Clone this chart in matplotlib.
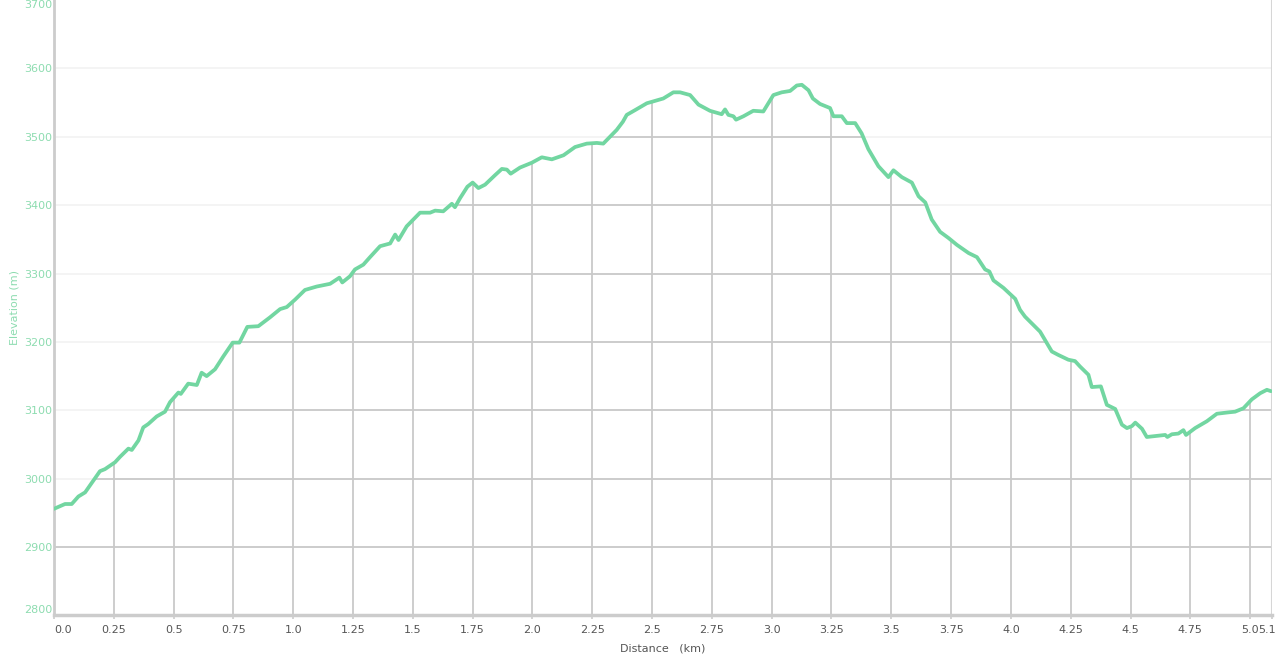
import numpy as np
import matplotlib
matplotlib.use("Agg")
import matplotlib.pyplot as plt
from matplotlib.patches import Polygon

# elevation profile
distance_km = [0.0, 0.046, 0.074, 0.102, 0.13, 0.158, 0.192, 0.213, 0.255, 0.276,
               0.311, 0.325, 0.353, 0.373, 0.394, 0.429, 0.464, 0.485, 0.52, 0.53,
               0.561, 0.597, 0.617, 0.638, 0.673, 0.708, 0.747, 0.775, 0.808, 0.854,
               0.903, 0.945, 0.973, 1.008, 1.049, 1.098, 1.154, 1.193, 1.205, 1.237,
               1.258, 1.293, 1.321, 1.363, 1.405, 1.426, 1.44, 1.474, 1.53, 1.572,
               1.593, 1.627, 1.663, 1.676, 1.697, 1.728, 1.75, 1.774, 1.802, 1.844,
               1.872, 1.893, 1.909, 1.948, 1.997, 2.039, 2.081, 2.13, 2.178, 2.227,
               2.269, 2.296, 2.324, 2.352, 2.378, 2.394, 2.429, 2.478, 2.547, 2.589,
               2.617, 2.659, 2.694, 2.742, 2.791, 2.805, 2.819, 2.84, 2.851, 2.882,
               2.923, 2.965, 2.986, 3.007, 3.042, 3.077, 3.105, 3.126, 3.154, 3.172,
               3.202, 3.244, 3.258, 3.293, 3.314, 3.349, 3.376, 3.404, 3.446, 3.488,
               3.509, 3.544, 3.586, 3.614, 3.642, 3.669, 3.704, 3.739, 3.774, 3.823,
               3.858, 3.892, 3.91, 3.927, 3.969, 4.018, 4.038, 4.059, 4.122, 4.171,
               4.198, 4.24, 4.268, 4.289, 4.324, 4.338, 4.376, 4.401, 4.436, 4.464,
               4.485, 4.506, 4.52, 4.548, 4.568, 4.617, 4.645, 4.654, 4.673, 4.7,
               4.721, 4.732, 4.77, 4.819, 4.861, 4.909, 4.937, 4.972, 5.007, 5.042,
               5.07, 5.087]
elevation_m = [2956, 2963, 2963, 2974, 2980, 2994, 3011, 3014, 3024, 3032,
               3044, 3042, 3056, 3075, 3080, 3091, 3098, 3112, 3126, 3124,
               3139, 3137, 3155, 3150, 3160, 3179, 3199, 3199, 3222, 3223,
               3236, 3248, 3251, 3262, 3276, 3281, 3285, 3294, 3287, 3296,
               3306, 3313, 3324, 3340, 3344, 3357, 3349, 3369, 3389, 3389,
               3392, 3391, 3402, 3397, 3410, 3427, 3433, 3425, 3430, 3444,
               3453, 3452, 3446, 3455, 3462, 3470, 3467, 3473, 3485, 3490,
               3491, 3490, 3500, 3510, 3522, 3532, 3539, 3549, 3556, 3565,
               3565, 3561, 3547, 3538, 3533, 3540, 3532, 3530, 3525, 3530,
               3538, 3537, 3549, 3561, 3565, 3567, 3575, 3576, 3568, 3556,
               3548, 3542, 3530, 3530, 3520, 3520, 3505, 3482, 3457, 3441,
               3451, 3441, 3433, 3413, 3404, 3379, 3361, 3352, 3342, 3330,
               3324, 3306, 3303, 3290, 3279, 3263, 3247, 3237, 3215, 3186,
               3181, 3174, 3172, 3164, 3152, 3134, 3135, 3108, 3102, 3079,
               3074, 3077, 3082, 3073, 3061, 3063, 3064, 3061, 3065, 3066,
               3071, 3064, 3074, 3084, 3095, 3097, 3098, 3103, 3116, 3125,
               3130, 3128]

x_ticks = [0.0, 0.25, 0.5, 0.75, 1.0, 1.25, 1.5, 1.75, 2.0, 2.25, 2.5,
           2.75, 3.0, 3.25, 3.5, 3.75, 4.0, 4.25, 4.5, 4.75, 5.0]
x_labels = ['0.0', '0.25', '0.5', '0.75', '1.0', '1.25', '1.5', '1.75', '2.0', '2.25',
            '2.5', '2.75', '3.0', '3.25', '3.5', '3.75', '4.0', '4.25', '4.5', '4.75',
            '5.0']
y_ticks = [2800, 2900, 3000, 3100, 3200, 3300, 3400, 3500, 3600, 3700]
x_max = 5.092
x_max_label = '5.1'

green = '#72d6a1'
label_green = '#8ddcb0'
grid_dark = '#c9c9c9'
grid_light = '#f2f2f2'

fig = plt.figure(figsize=(12.77, 6.54), dpi=100)
ax = fig.add_axes([0.0423, 0.0589, 0.9539, 0.9411])
ax.set_xlim(0, x_max)
ax.set_ylim(2800, 3700)

# light horizontal grid everywhere
for yv in y_ticks[1:-1]:
    ax.axhline(yv, color=grid_light, lw=1.2, zorder=1)

# darker grid only under the profile
poly_pts = list(zip(distance_km, elevation_m))
poly_pts = [(distance_km[0], 2800)] + poly_pts + [(distance_km[-1], 2800)]
clip = Polygon(poly_pts, closed=True, facecolor='none', edgecolor='none')
ax.add_patch(clip)
for yv in y_ticks[1:-1]:
    ln = ax.axhline(yv, color=grid_dark, lw=1.3, zorder=2)
    ln.set_clip_path(clip)
for xv in x_ticks[1:]:
    ln = ax.axvline(xv, color=grid_dark, lw=1.3, zorder=2)
    ln.set_clip_path(clip)

ax.plot(distance_km, elevation_m, color=green, lw=2.7, zorder=3,
        solid_joinstyle='round', solid_capstyle='round')

for side in ['top', 'right']:
    ax.spines[side].set_visible(False)
ax.spines['left'].set_color('#cccccc')
ax.spines['left'].set_linewidth(2)
ax.spines['bottom'].set_color('#cccccc')
ax.spines['bottom'].set_linewidth(2.5)
ax.axvline(x_max, color='#d6d6d6', lw=1.5, zorder=2)

# x axis
ax.set_xticks(x_ticks + [x_max])
ax.set_xticklabels(x_labels + [''])
ax.tick_params(axis='x', colors='#cccccc', labelcolor='#555555', labelsize=8,
               length=3, width=1.2, pad=4)
ax.get_xticklabels()[0].set_ha('left')
# end-of-track label squeezed against the right edge
ax.annotate(x_max_label, xy=(x_max, 0), xycoords=('data', 'axes fraction'),
            xytext=(2.3, -7), textcoords='offset points', ha='right', va='top',
            fontsize=8, color='#555555')

# y axis
ax.set_yticks(y_ticks)
ax.set_yticklabels([str(v) for v in y_ticks])
ax.tick_params(axis='y', length=0, labelcolor=label_green, labelsize=8, pad=1.5)
yl = ax.get_yticklabels()
yl[0].set_va('bottom')
yl[-1].set_va('top')

ax.set_xlabel('Distance   (km)', color='#555555', fontsize=8, labelpad=6)
ax.set_ylabel('Elevation (m)', color=label_green, fontsize=8, labelpad=3)

plt.savefig('out.png', dpi=100)
